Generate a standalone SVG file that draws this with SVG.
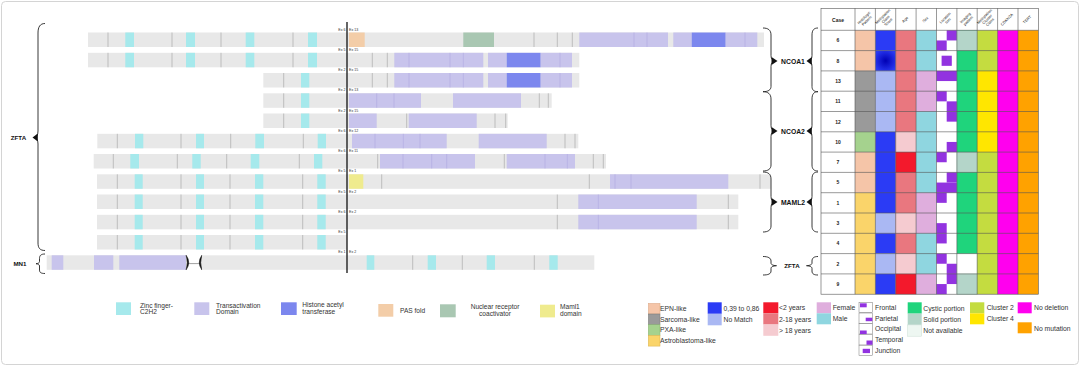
<svg xmlns="http://www.w3.org/2000/svg" width="1080" height="366" viewBox="0 0 1080 366">
<defs>
<style>
.g{fill:#e8e8e8}
.d{stroke:#a0a0a0;stroke-width:0.6}
.dl{stroke:#aea8e0;stroke-width:0.6}
.z{fill:#a6e9ec}
.t{fill:#c8c4ec}
.h{fill:#7c87ee}
.ex{font-family:"Liberation Sans",Arial,sans-serif;font-size:3.6px;fill:#333}
.lb{font-family:"Liberation Sans",Arial,sans-serif;font-weight:bold;fill:#111}
.br{fill:none;stroke:#222;stroke-width:0.9}
.tip{fill:#111}
.lg{font-family:"Liberation Sans",Arial,sans-serif;font-size:6.6px;fill:#333}
.lg2{font-family:"Liberation Sans",Arial,sans-serif;font-size:6.8px;fill:#333}
.hd{font-family:"Liberation Sans",Arial,sans-serif;font-size:3.8px;fill:#222}
.cs{font-family:"Liberation Sans",Arial,sans-serif;font-size:5px;font-weight:bold;fill:#222;text-anchor:middle}
.grid{fill:none;stroke:#555;stroke-width:0.6}
.pu{fill:#9233e0}
.box{fill:#fff;stroke:#777;stroke-width:0.5}
</style>
<radialGradient id="dkblue" cx="0.5" cy="0.5" r="0.6">
<stop offset="0" stop-color="#0000b4"/>
<stop offset="1" stop-color="#2b3bf5"/>
</radialGradient>
</defs>
<rect x="1.5" y="1.5" width="1077" height="363" rx="4" fill="#fff" stroke="#d4d4d4" stroke-width="1"/>

<!-- Fusion bars -->
<g id="row1" transform="translate(0,32.5)">
<rect class="g" x="88" y="0" width="676" height="14.5"/>
<rect class="z" x="125.3" y="0" width="8.7" height="14.5"/><rect class="z" x="186" y="0" width="9" height="14.5"/><rect class="z" x="245.7" y="0" width="8.6" height="14.5"/><rect class="z" x="308" y="0" width="9" height="14.5"/>
<rect x="349" y="0" width="15.7" height="14.5" fill="#f3cda8"/>
<rect x="463.3" y="0" width="30.7" height="14.5" fill="#a9c7b2"/>
<rect class="t" x="579.3" y="0" width="88.7" height="14.5"/>
<rect class="t" x="673.3" y="0" width="18.4" height="14.5"/>
<rect class="h" x="691.7" y="0" width="34" height="14.5"/>
<rect class="t" x="725.7" y="0" width="31.6" height="14.5"/>
<g class="d"><line x1="108" y1="0" x2="108" y2="14.5"/><line x1="172" y1="0" x2="172" y2="14.5"/><line x1="221" y1="0" x2="221" y2="14.5"/><line x1="293" y1="0" x2="293" y2="14.5"/><line x1="534" y1="0" x2="534" y2="14.5"/><line x1="557.3" y1="0" x2="557.3" y2="14.5"/><line x1="572.3" y1="0" x2="572.3" y2="14.5"/></g>
<g class="dl"><line x1="634" y1="0" x2="634" y2="14.5"/><line x1="647" y1="0" x2="647" y2="14.5"/><line x1="745" y1="0" x2="745" y2="14.5"/></g>
<text class="ex" x="345.5" y="-2" text-anchor="end">Ex 6</text><text class="ex" x="349" y="-2">Ex 13</text>
</g>

<g id="row2" transform="translate(0,52.8)">
<rect class="g" x="88" y="0" width="491.3" height="14.5"/>
<rect class="z" x="125.3" y="0" width="8.7" height="14.5"/><rect class="z" x="186" y="0" width="9" height="14.5"/><rect class="z" x="245.7" y="0" width="8.6" height="14.5"/><rect class="z" x="308" y="0" width="9" height="14.5"/>
<rect class="t" x="394.3" y="0" width="89" height="14.5"/>
<rect class="t" x="488" y="0" width="18.7" height="14.5"/>
<rect class="h" x="506.7" y="0" width="34" height="14.5"/>
<rect class="t" x="540.7" y="0" width="31.3" height="14.5"/>
<g class="d"><line x1="108" y1="0" x2="108" y2="14.5"/><line x1="172" y1="0" x2="172" y2="14.5"/><line x1="221" y1="0" x2="221" y2="14.5"/><line x1="293" y1="0" x2="293" y2="14.5"/><line x1="372.3" y1="0" x2="372.3" y2="14.5"/><line x1="387.3" y1="0" x2="387.3" y2="14.5"/></g>
<g class="dl"><line x1="409" y1="0" x2="409" y2="14.5"/><line x1="450" y1="0" x2="450" y2="14.5"/><line x1="463.3" y1="0" x2="463.3" y2="14.5"/><line x1="560" y1="0" x2="560" y2="14.5"/></g>
<text class="ex" x="345.5" y="-2" text-anchor="end">Ex 5</text><text class="ex" x="349" y="-2">Ex 15</text>
</g>

<g id="row3" transform="translate(0,73)">
<rect class="g" x="263.3" y="0" width="316" height="14.5"/>
<rect class="z" x="301" y="0" width="8.3" height="14.5"/>
<rect class="t" x="394.3" y="0" width="89" height="14.5"/>
<rect class="t" x="488" y="0" width="18.7" height="14.5"/>
<rect class="h" x="506.7" y="0" width="34" height="14.5"/>
<rect class="t" x="540.7" y="0" width="31.3" height="14.5"/>
<g class="d"><line x1="283.7" y1="0" x2="283.7" y2="14.5"/><line x1="372.3" y1="0" x2="372.3" y2="14.5"/><line x1="387.3" y1="0" x2="387.3" y2="14.5"/></g>
<g class="dl"><line x1="409" y1="0" x2="409" y2="14.5"/><line x1="450" y1="0" x2="450" y2="14.5"/><line x1="463.3" y1="0" x2="463.3" y2="14.5"/><line x1="560" y1="0" x2="560" y2="14.5"/></g>
<text class="ex" x="345.5" y="-2" text-anchor="end">Ex 2</text><text class="ex" x="349" y="-2">Ex 15</text>
</g>

<g id="row4" transform="translate(0,93.3)">
<rect class="g" x="263.3" y="0" width="288.4" height="14.5"/>
<rect class="z" x="301" y="0" width="8.3" height="14.5"/>
<rect class="t" x="349" y="0" width="72" height="14.5"/>
<rect class="t" x="453" y="0" width="68" height="14.5"/>
<g class="d"><line x1="283.7" y1="0" x2="283.7" y2="14.5"/><line x1="539.3" y1="0" x2="539.3" y2="14.5"/><line x1="548.3" y1="0" x2="548.3" y2="14.5"/></g>
<g class="dl"><line x1="376.7" y1="0" x2="376.7" y2="14.5"/><line x1="394" y1="0" x2="394" y2="14.5"/></g>
<text class="ex" x="345.5" y="-2" text-anchor="end">Ex 2</text><text class="ex" x="349" y="-2">Ex 13</text>
</g>

<g id="row5" transform="translate(0,113.5)">
<rect class="g" x="263.3" y="0" width="244.4" height="14.5"/>
<rect class="z" x="301" y="0" width="8.3" height="14.5"/>
<rect class="t" x="349" y="0" width="27.7" height="14.5"/>
<rect class="t" x="408.7" y="0" width="68" height="14.5"/>
<g class="d"><line x1="283.7" y1="0" x2="283.7" y2="14.5"/><line x1="406.7" y1="0" x2="406.7" y2="14.5"/><line x1="495" y1="0" x2="495" y2="14.5"/><line x1="505.7" y1="0" x2="505.7" y2="14.5"/></g>
<text class="ex" x="345.5" y="-2" text-anchor="end">Ex 2</text><text class="ex" x="349" y="-2">Ex 15</text>
</g>

<g id="row6" transform="translate(0,133.8)">
<rect class="g" x="97.3" y="0" width="481" height="14.5"/>
<rect class="z" x="135" y="0" width="8.3" height="14.5"/><rect class="z" x="196" y="0" width="8" height="14.5"/><rect class="z" x="255.3" y="0" width="8.7" height="14.5"/><rect class="z" x="317.7" y="0" width="8.3" height="14.5"/>
<rect class="t" x="352" y="0" width="94.7" height="14.5"/>
<rect class="t" x="478.7" y="0" width="68" height="14.5"/>
<g class="d"><line x1="117.3" y1="0" x2="117.3" y2="14.5"/><line x1="181" y1="0" x2="181" y2="14.5"/><line x1="230.7" y1="0" x2="230.7" y2="14.5"/><line x1="303.3" y1="0" x2="303.3" y2="14.5"/><line x1="565" y1="0" x2="565" y2="14.5"/><line x1="575" y1="0" x2="575" y2="14.5"/></g>
<g class="dl"><line x1="375" y1="0" x2="375" y2="14.5"/><line x1="403.3" y1="0" x2="403.3" y2="14.5"/><line x1="420" y1="0" x2="420" y2="14.5"/></g>
<text class="ex" x="345.5" y="-2" text-anchor="end">Ex 6</text><text class="ex" x="349" y="-2">Ex 12</text>
</g>

<g id="row7" transform="translate(0,154)">
<rect class="g" x="93.7" y="0" width="512.3" height="14.5"/>
<rect class="z" x="130.3" y="0" width="8.7" height="14.5"/><rect class="z" x="192.3" y="0" width="8.4" height="14.5"/><rect class="z" x="250.7" y="0" width="8.6" height="14.5"/><rect class="z" x="314" y="0" width="8.3" height="14.5"/>
<rect class="t" x="380" y="0" width="95" height="14.5"/>
<rect class="t" x="506.7" y="0" width="68.3" height="14.5"/>
<g class="d"><line x1="113.3" y1="0" x2="113.3" y2="14.5"/><line x1="177.3" y1="0" x2="177.3" y2="14.5"/><line x1="226.7" y1="0" x2="226.7" y2="14.5"/><line x1="299.3" y1="0" x2="299.3" y2="14.5"/><line x1="377.7" y1="0" x2="377.7" y2="14.5"/><line x1="504.3" y1="0" x2="504.3" y2="14.5"/><line x1="593.3" y1="0" x2="593.3" y2="14.5"/><line x1="603.3" y1="0" x2="603.3" y2="14.5"/></g>
<g class="dl"><line x1="403" y1="0" x2="403" y2="14.5"/><line x1="431.7" y1="0" x2="431.7" y2="14.5"/><line x1="446.7" y1="0" x2="446.7" y2="14.5"/><line x1="545" y1="0" x2="545" y2="14.5"/><line x1="567.3" y1="0" x2="567.3" y2="14.5"/></g>
<text class="ex" x="345.5" y="-2" text-anchor="end">Ex 6</text><text class="ex" x="349" y="-2">Ex 11</text>
</g>

<g id="row8" transform="translate(0,174.3)">
<rect class="g" x="97" y="0" width="673.7" height="14.5"/>
<rect class="z" x="134.7" y="0" width="8" height="14.5"/><rect class="z" x="196" y="0" width="8" height="14.5"/><rect class="z" x="255" y="0" width="8.3" height="14.5"/><rect class="z" x="317.3" y="0" width="8.4" height="14.5"/>
<rect x="349" y="0" width="14.3" height="14.5" fill="#efeb8e"/>
<rect class="t" x="610" y="0" width="118.3" height="14.5"/>
<g class="d"><line x1="117.3" y1="0" x2="117.3" y2="14.5"/><line x1="181" y1="0" x2="181" y2="14.5"/><line x1="230" y1="0" x2="230" y2="14.5"/><line x1="302.7" y1="0" x2="302.7" y2="14.5"/><line x1="381.7" y1="0" x2="381.7" y2="14.5"/><line x1="589.3" y1="0" x2="589.3" y2="14.5"/><line x1="760" y1="0" x2="760" y2="14.5"/></g>
<g class="dl"><line x1="615" y1="0" x2="615" y2="14.5"/><line x1="631" y1="0" x2="631" y2="14.5"/></g>
<text class="ex" x="345.5" y="-2" text-anchor="end">Ex 5</text><text class="ex" x="349" y="-2">Ex 1</text>
</g>

<g id="row9" transform="translate(0,194.5)">
<rect class="g" x="97" y="0" width="641.3" height="14.5"/>
<rect class="z" x="134.7" y="0" width="8" height="14.5"/><rect class="z" x="196" y="0" width="8" height="14.5"/><rect class="z" x="255" y="0" width="8.3" height="14.5"/><rect class="z" x="317.3" y="0" width="8.4" height="14.5"/>
<rect class="t" x="578.3" y="0" width="118.4" height="14.5"/>
<g class="d"><line x1="117.3" y1="0" x2="117.3" y2="14.5"/><line x1="181" y1="0" x2="181" y2="14.5"/><line x1="230" y1="0" x2="230" y2="14.5"/><line x1="302.7" y1="0" x2="302.7" y2="14.5"/><line x1="557.3" y1="0" x2="557.3" y2="14.5"/><line x1="728.3" y1="0" x2="728.3" y2="14.5"/></g>
<g class="dl"><line x1="598.3" y1="0" x2="598.3" y2="14.5"/></g>
<text class="ex" x="345.5" y="-2" text-anchor="end">Ex 5</text><text class="ex" x="349" y="-2">Ex 2</text>
</g>

<g id="row10" transform="translate(0,214.8)">
<rect class="g" x="97" y="0" width="641.3" height="14.5"/>
<rect class="z" x="134.7" y="0" width="8" height="14.5"/><rect class="z" x="196" y="0" width="8" height="14.5"/><rect class="z" x="255" y="0" width="8.3" height="14.5"/><rect class="z" x="317.3" y="0" width="8.4" height="14.5"/>
<rect class="t" x="578.3" y="0" width="118.4" height="14.5"/>
<g class="d"><line x1="117.3" y1="0" x2="117.3" y2="14.5"/><line x1="181" y1="0" x2="181" y2="14.5"/><line x1="230" y1="0" x2="230" y2="14.5"/><line x1="302.7" y1="0" x2="302.7" y2="14.5"/><line x1="557.3" y1="0" x2="557.3" y2="14.5"/><line x1="728.3" y1="0" x2="728.3" y2="14.5"/></g>
<g class="dl"><line x1="598.3" y1="0" x2="598.3" y2="14.5"/></g>
<text class="ex" x="345.5" y="-2" text-anchor="end">Ex 6</text><text class="ex" x="349" y="-2">Ex 2</text>
</g>

<g id="row11" transform="translate(0,235)">
<rect class="g" x="97" y="0" width="250" height="14.5"/>
<rect class="z" x="134.7" y="0" width="8" height="14.5"/><rect class="z" x="196" y="0" width="8" height="14.5"/><rect class="z" x="255" y="0" width="8.3" height="14.5"/><rect class="z" x="317.3" y="0" width="8.4" height="14.5"/>
<g class="d"><line x1="117.3" y1="0" x2="117.3" y2="14.5"/><line x1="181" y1="0" x2="181" y2="14.5"/><line x1="230" y1="0" x2="230" y2="14.5"/><line x1="302.7" y1="0" x2="302.7" y2="14.5"/></g>
<text class="ex" x="345.5" y="-2" text-anchor="end">Ex 5</text>
</g>

<g id="row12" transform="translate(0,255.3)">
<rect class="g" x="46.7" y="0" width="139.3" height="14.5"/>
<rect class="t" x="51.7" y="0" width="11.6" height="14.5"/>
<rect class="t" x="94" y="0" width="19.3" height="14.5"/>
<rect class="t" x="119.3" y="0" width="66.7" height="14.5"/>
<line x1="188" y1="8.3" x2="200" y2="8.3" stroke="#777" stroke-width="0.7"/>
<path d="M186.2,0 Q191.2,7.25 186.2,14.5 Q188.2,7.25 186.2,0 Z" fill="#111" stroke="#111" stroke-width="0.6"/>
<path d="M201.8,0 Q196.8,7.25 201.8,14.5 Q199.8,7.25 201.8,0 Z" fill="#111" stroke="#111" stroke-width="0.6"/>
<rect class="g" x="202" y="0" width="392.3" height="14.5"/>
<rect class="z" x="366.7" y="0" width="7.6" height="14.5"/><rect class="z" x="427.7" y="0" width="8.3" height="14.5"/><rect class="z" x="486.7" y="0" width="8.3" height="14.5"/><rect class="z" x="549.3" y="0" width="8.4" height="14.5"/>
<g class="d"><line x1="412.7" y1="0" x2="412.7" y2="14.5"/><line x1="462.3" y1="0" x2="462.3" y2="14.5"/><line x1="534.3" y1="0" x2="534.3" y2="14.5"/></g>
<text class="ex" x="345.5" y="-2" text-anchor="end">Ex 1</text><text class="ex" x="349" y="-2">Ex 2</text>
</g>

<g id="connectors">
<line x1="347" y1="22" x2="347" y2="273" stroke="#111" stroke-width="1.3"/>
<!-- left braces -->
<path class="br" d="M45,23.5 C40,23.5 38,27 38,33 L38,131 C38,135 36.5,137 34,137.5 C36.5,138 38,140 38,144 L38,243 C38,248 40,250.5 45,250.5"/>
<polygon class="tip" points="32.5,137.5 37.8,133.5 37.8,141.5"/>
<path class="br" d="M45,254 C41,254 39.5,255.5 39.5,258.5 L39.5,261.5 C39.5,263 38,263.5 36,263.7 C38,264 39.5,264.5 39.5,266 L39.5,270 C39.5,272.5 41,273.5 45,273.5"/>
<!-- right braces (bars side) -->
<path class="br" d="M763,28 C768,28 771,30 771,35 L771,55.5 C771,59 772.5,60.5 775.5,61 C772.5,61.5 771,63 771,66.5 L771,86.5 C771,90 768,91.7 763,91.7"/>
<polygon class="tip" points="777.5,61 771.5,57 771.5,65"/>
<path class="br" d="M763,91.7 C768,91.7 771,94 771,99 L771,125.5 C771,129 772.5,130.5 775.5,131 C772.5,131.5 771,133 771,136.5 L771,165 C771,169 768,171 763,171"/>
<polygon class="tip" points="777.5,131 771.5,127 771.5,135"/>
<path class="br" d="M763,172 C768,172 771,174 771,179 L771,196.5 C771,200 772.5,201.5 775.5,202 C772.5,202.5 771,204 771,207.5 L771,226 C771,230 768,232 763,232"/>
<polygon class="tip" points="777.5,202 771.5,198 771.5,206"/>
<path class="br" d="M763,256.5 C768,256.5 771,258 771,261 L771,263 C771,264.5 772.5,265.5 776.5,265.7 C772.5,266 771,267 771,268.5 L771,271 C771,274 768,275 763,275"/>
<!-- braces (table side) -->
<path class="br" d="M818,28 C814,28 812,30 812,35 L812,55.5 C812,59 810.5,60.5 808.5,61 C810.5,61.5 812,63 812,66.5 L812,86.5 C812,90 814,91.7 818,91.7"/>
<polygon class="tip" points="806.5,61 811.8,57 811.8,65"/>
<path class="br" d="M818,91.7 C814,91.7 812,94 812,99 L812,125.5 C812,129 810.5,130.5 808.5,131 C810.5,131.5 812,133 812,136.5 L812,165 C812,169 814,171 818,171"/>
<polygon class="tip" points="806.5,131 811.8,127 811.8,135"/>
<path class="br" d="M818,172 C814,172 812,174 812,179 L812,196.5 C812,200 810.5,201.5 808.5,202 C810.5,202.5 812,204 812,207.5 L812,226 C812,230 814,232 818,232"/>
<polygon class="tip" points="806.5,202 811.8,198 811.8,206"/>
<path class="br" d="M818,256.5 C814,256.5 812,258 812,261 L812,263 C812,264.5 810.5,265.5 806.5,265.7 C810.5,266 812,267 812,268.5 L812,271 C812,274 814,275 818,275"/>
</g>

<g id="gene-labels">
<text class="lb" x="18.5" y="139.5" font-size="6.2" text-anchor="middle">ZFTA</text>
<text class="lb" x="20" y="266" font-size="6.2" text-anchor="middle">MN1</text>
<text class="lb" x="793" y="63.5" font-size="6.8" text-anchor="middle">NCOA1</text>
<text class="lb" x="793" y="133.5" font-size="6.8" text-anchor="middle">NCOA2</text>
<text class="lb" x="793" y="204.5" font-size="6.8" text-anchor="middle">MAML2</text>
<text class="lb" x="792" y="268" font-size="6.2" text-anchor="middle">ZFTA</text>
</g>

<!-- Clinical table -->
<g id="table">
<rect x="821" y="8.3" width="217.3" height="22" fill="#fff"/>
<g id="cells">
<!-- col1 histology -->
<rect x="855" y="30.3" width="20.4" height="40.6" fill="#f5c5a8"/>
<rect x="855" y="70.9" width="20.4" height="60.9" fill="#9a9a9a"/>
<rect x="855" y="131.8" width="20.4" height="20.3" fill="#a5d28e"/>
<rect x="855" y="152.1" width="20.4" height="40.6" fill="#f5c5a8"/>
<rect x="855" y="192.7" width="20.4" height="101.5" fill="#fad46a"/>
<!-- col2 score -->
<rect x="875.4" y="30.3" width="20.4" height="20.3" fill="#2b3bf5"/>
<rect x="875.4" y="50.6" width="20.4" height="20.3" fill="url(#dkblue)"/>
<rect x="875.4" y="70.9" width="20.4" height="60.9" fill="#aab8f3"/>
<rect x="875.4" y="131.8" width="20.4" height="81.2" fill="#2b3bf5"/>
<rect x="875.4" y="213" width="20.4" height="20.3" fill="#aab8f3"/>
<rect x="875.4" y="233.3" width="20.4" height="20.3" fill="#2b3bf5"/>
<rect x="875.4" y="253.6" width="20.4" height="20.3" fill="#aab8f3"/>
<rect x="875.4" y="273.9" width="20.4" height="20.3" fill="#2b3bf5"/>
<!-- col3 age -->
<rect x="895.7" y="30.3" width="20.4" height="263.9" fill="#e9777f"/>
<rect x="895.7" y="131.8" width="20.4" height="20.3" fill="#f5cbd0"/>
<rect x="895.7" y="152.1" width="20.4" height="20.3" fill="#f3192c"/>
<rect x="895.7" y="213" width="20.4" height="20.3" fill="#f5cbd0"/>
<rect x="895.7" y="253.6" width="20.4" height="20.3" fill="#f5cbd0"/>
<rect x="895.7" y="273.9" width="20.4" height="20.3" fill="#f3192c"/>
<!-- col4 sex -->
<rect x="916.1" y="30.3" width="20.4" height="263.9" fill="#8fd6e0"/>
<rect x="916.1" y="70.9" width="20.4" height="40.6" fill="#dfaedd"/>
<rect x="916.1" y="192.7" width="20.4" height="40.6" fill="#dfaedd"/>
<rect x="916.1" y="273.9" width="20.4" height="20.3" fill="#dfaedd"/>
<!-- col5 location -->
<rect x="936.5" y="30.3" width="20.4" height="263.9" fill="#fff"/>
<g class="pu">
<rect x="946.7" y="30.3" width="10.2" height="10.15"/><rect x="936.5" y="40.45" width="10.2" height="10.15"/>
<rect x="941.6" y="55.7" width="10.2" height="10.15"/>
<rect x="936.5" y="70.9" width="20.4" height="10.15"/>
<rect x="936.5" y="91.2" width="10.2" height="10.15"/><rect x="946.7" y="101.35" width="10.2" height="10.15"/>
<rect x="946.7" y="111.5" width="10.2" height="10.15"/>
<rect x="946.7" y="141.95" width="10.2" height="10.15"/>
<rect x="936.5" y="152.1" width="10.2" height="10.15"/>
<rect x="946.7" y="172.4" width="10.2" height="10.15"/><rect x="936.5" y="182.55" width="20.4" height="10.15"/>
<rect x="936.5" y="192.7" width="10.2" height="10.15"/>
<rect x="936.5" y="223.15" width="10.2" height="10.15"/>
<rect x="936.5" y="233.3" width="10.2" height="10.15"/>
<rect x="936.5" y="253.6" width="10.2" height="10.15"/><rect x="946.7" y="263.75" width="10.2" height="10.15"/>
<rect x="946.7" y="273.9" width="10.2" height="10.15"/><rect x="936.5" y="284.05" width="10.2" height="10.15"/>
</g>
<!-- col6 imaging -->
<rect x="956.9" y="30.3" width="20.4" height="263.9" fill="#1fd47c"/>
<rect x="956.9" y="30.3" width="20.4" height="20.3" fill="#b4d5c9"/>
<rect x="956.9" y="152.1" width="20.4" height="20.3" fill="#b4d5c9"/>
<rect x="956.9" y="253.6" width="20.4" height="20.3" fill="#fff"/>
<rect x="956.9" y="273.9" width="20.4" height="20.3" fill="#b4d5c9"/>
<!-- col7 cluster -->
<rect x="977.2" y="30.3" width="20.4" height="263.9" fill="#c4dc40"/>
<rect x="977.2" y="70.9" width="20.4" height="81.2" fill="#ffe600"/>
<!-- col8, col9 -->
<rect x="997.6" y="30.3" width="20.4" height="263.9" fill="#ff00ee"/>
<rect x="1018" y="30.3" width="20.3" height="263.9" fill="#ffa200"/>
</g>
<g class="grid">
<rect x="821" y="8.3" width="217.3" height="285.9"/>
<line x1="821" y1="30.3" x2="1038.3" y2="30.3"/><line x1="821" y1="50.6" x2="1038.3" y2="50.6"/><line x1="821" y1="70.9" x2="1038.3" y2="70.9"/><line x1="821" y1="91.2" x2="1038.3" y2="91.2"/><line x1="821" y1="111.5" x2="1038.3" y2="111.5"/><line x1="821" y1="131.8" x2="1038.3" y2="131.8"/><line x1="821" y1="152.1" x2="1038.3" y2="152.1"/><line x1="821" y1="172.4" x2="1038.3" y2="172.4"/><line x1="821" y1="192.7" x2="1038.3" y2="192.7"/><line x1="821" y1="213" x2="1038.3" y2="213"/><line x1="821" y1="233.3" x2="1038.3" y2="233.3"/><line x1="821" y1="253.6" x2="1038.3" y2="253.6"/><line x1="821" y1="273.9" x2="1038.3" y2="273.9"/>
<line x1="855" y1="8.3" x2="855" y2="294.2"/><line x1="875.4" y1="8.3" x2="875.4" y2="294.2"/><line x1="895.7" y1="8.3" x2="895.7" y2="294.2"/><line x1="916.1" y1="8.3" x2="916.1" y2="294.2"/><line x1="936.5" y1="8.3" x2="936.5" y2="294.2"/><line x1="956.9" y1="8.3" x2="956.9" y2="294.2"/><line x1="977.2" y1="8.3" x2="977.2" y2="294.2"/><line x1="997.6" y1="8.3" x2="997.6" y2="294.2"/><line x1="1018" y1="8.3" x2="1018" y2="294.2"/>
</g>
<text class="cs" x="838" y="21.5" font-size="6">Case</text>
<text class="cs" x="838" y="42.3">6</text>
<text class="cs" x="838" y="62.6">8</text>
<text class="cs" x="838" y="82.9">13</text>
<text class="cs" x="838" y="103.2">11</text>
<text class="cs" x="838" y="123.5">12</text>
<text class="cs" x="838" y="143.8">10</text>
<text class="cs" x="838" y="164.1">7</text>
<text class="cs" x="838" y="184.4">5</text>
<text class="cs" x="838" y="204.7">1</text>
<text class="cs" x="838" y="225">3</text>
<text class="cs" x="838" y="245.3">4</text>
<text class="cs" x="838" y="265.6">2</text>
<text class="cs" x="838" y="285.9">9</text>
<g class="hd" text-anchor="middle">
<text transform="translate(865.5,19.5) rotate(-45)"><tspan x="0" dy="-1">Histologic</tspan><tspan x="0" dy="4">Pattern</tspan></text>
<text transform="translate(885.8,19.5) rotate(-45)"><tspan x="0" dy="-3">Methylation</tspan><tspan x="0" dy="4">Class</tspan><tspan x="0" dy="4">Score</tspan></text>
<text transform="translate(906,20.5) rotate(-45)">Age</text>
<text transform="translate(926.3,20.5) rotate(-45)">Sex</text>
<text transform="translate(946.7,19.5) rotate(-45)"><tspan x="0" dy="-1">Location</tspan><tspan x="0" dy="4">tum</tspan></text>
<text transform="translate(967,19.5) rotate(-45)"><tspan x="0" dy="-1">Imaging</tspan><tspan x="0" dy="4">pattern</tspan></text>
<text transform="translate(987.4,19.5) rotate(-45)"><tspan x="0" dy="-3">Methylation</tspan><tspan x="0" dy="4">Cluster</tspan><tspan x="0" dy="4">Class</tspan></text>
<text transform="translate(1007.8,20.5) rotate(-45)">CDKN2A</text>
<text transform="translate(1028.1,20.5) rotate(-45)">TERT</text>
</g>
</g>

<!-- Domain legend -->
<g id="legend-domains">
<rect x="116" y="302.3" width="15" height="12.7" fill="#a6e9ec"/>
<text class="lg" x="140" y="307.5">Zinc finger-</text><text class="lg" x="140" y="314.3">C2H2</text>
<rect x="194.3" y="302.3" width="15" height="12.7" fill="#c8c4ec"/>
<text class="lg" x="216" y="307.5">Transactivation</text><text class="lg" x="216" y="314.3">Domain</text>
<rect x="281" y="302.3" width="15.7" height="12.7" fill="#7c87ee"/>
<text class="lg" x="302.3" y="307">Histone acetyl</text><text class="lg" x="302.3" y="313.8">transferase</text>
<rect x="378.3" y="304" width="15" height="12.7" fill="#f3cda8"/>
<text class="lg" x="400" y="312.8">PAS fold</text>
<rect x="440" y="304.3" width="15.7" height="13" fill="#a9c7b2"/>
<text class="lg" x="495" y="309" text-anchor="middle">Nuclear receptor</text><text class="lg" x="495" y="315.8" text-anchor="middle">coactivator</text>
<rect x="540" y="304.7" width="15" height="12.7" fill="#efeb8e"/>
<text class="lg" x="560" y="309.3">Maml1</text><text class="lg" x="560" y="316">domain</text>
</g>

<!-- Clinical legend -->
<g id="legend-clinical">
<rect x="648.3" y="303.3" width="11.7" height="10.7" fill="#f5c5a8" stroke="#d9a887" stroke-width="0.5"/>
<rect x="648.3" y="314" width="11.7" height="10.7" fill="#9a9a9a" stroke="#7a7a7a" stroke-width="0.5"/>
<rect x="648.3" y="324.7" width="11.7" height="10.7" fill="#a5d28e" stroke="#84b06e" stroke-width="0.5"/>
<rect x="648.3" y="335.4" width="11.7" height="10.7" fill="#fad46a" stroke="#d9b24a" stroke-width="0.5"/>
<text class="lg2" x="660" y="311">EPN-like</text>
<text class="lg2" x="660" y="321.7">Sarcoma-like</text>
<text class="lg2" x="660" y="332.4">PXA-like</text>
<text class="lg2" x="660" y="343.1">Astroblastoma-like</text>

<rect x="707.7" y="302.3" width="14" height="11.5" fill="#2b3bf5"/>
<rect x="707.7" y="313.8" width="14" height="11.5" fill="#aab8f3"/>
<text class="lg2" x="723.5" y="310.5">0,39 to 0,86</text>
<text class="lg2" x="723.5" y="322">No Match</text>

<rect x="763.3" y="302.3" width="15" height="11" fill="#f3192c"/>
<rect x="763.3" y="313.3" width="15" height="11.2" fill="#e9777f"/>
<rect x="763.3" y="324.5" width="15" height="11.3" fill="#f5cbd0"/>
<text class="lg2" x="779" y="310.3">&lt;2 years</text>
<text class="lg2" x="779" y="321.5">2-18 years</text>
<text class="lg2" x="779" y="332.8">&gt; 18 years</text>

<rect x="816.7" y="302.3" width="14.3" height="11" fill="#dfaedd"/>
<rect x="816.7" y="313.3" width="14.3" height="11" fill="#8fd6e0"/>
<text class="lg2" x="832.7" y="310.3">Female</text>
<text class="lg2" x="832.7" y="321.3">Male</text>

<rect class="box" x="859" y="302.3" width="13.3" height="10.3"/>
<rect class="pu" x="860" y="303.3" width="6.7" height="4"/>
<rect class="box" x="859" y="313" width="13.3" height="10.3"/>
<rect class="pu" x="865.7" y="317.7" width="6.6" height="3.5"/>
<rect class="box" x="859" y="323.7" width="13.3" height="10.3"/>
<rect class="pu" x="860" y="330.5" width="6.7" height="3.8"/>
<rect class="box" x="859" y="334.4" width="13.3" height="10.6"/>
<rect class="pu" x="866.5" y="340.5" width="6" height="4.3"/>
<rect class="box" x="859" y="345.2" width="13.3" height="10.3"/>
<rect class="pu" x="862.7" y="348.8" width="7.3" height="4.3"/>
<text class="lg2" x="875" y="309.5">Frontal</text>
<text class="lg2" x="875" y="320.5">Parietal</text>
<text class="lg2" x="875" y="331.2">Occipital</text>
<text class="lg2" x="875" y="342">Temporal</text>
<text class="lg2" x="875" y="352.7">Junction</text>

<rect x="907.7" y="302.3" width="14" height="11.3" fill="#1fd47c"/>
<rect x="907.7" y="313.6" width="14" height="11.3" fill="#b4d5c9"/>
<rect x="907.7" y="324.9" width="14" height="11.3" fill="#eef7f2" stroke="#c9ddd3" stroke-width="0.5"/>
<text class="lg2" x="923.3" y="310.5">Cystic portion</text>
<text class="lg2" x="923.3" y="321.8">Solid portion</text>
<text class="lg2" x="923.3" y="333">Not available</text>

<rect x="970" y="302.3" width="14.3" height="11" fill="#c4dc40"/>
<rect x="970" y="313.3" width="14.3" height="11" fill="#ffe600"/>
<text class="lg2" x="986.7" y="310.3">Cluster 2</text>
<text class="lg2" x="986.7" y="321.3">Cluster 4</text>

<rect x="1017.7" y="302.3" width="14" height="11" fill="#ff00ee"/>
<text class="lg2" x="1034" y="310.3">No deletion</text>
<rect x="1017.7" y="322.3" width="14" height="11" fill="#ffa200"/>
<text class="lg2" x="1034" y="330.5">No mutation</text>
</g>
</svg>
